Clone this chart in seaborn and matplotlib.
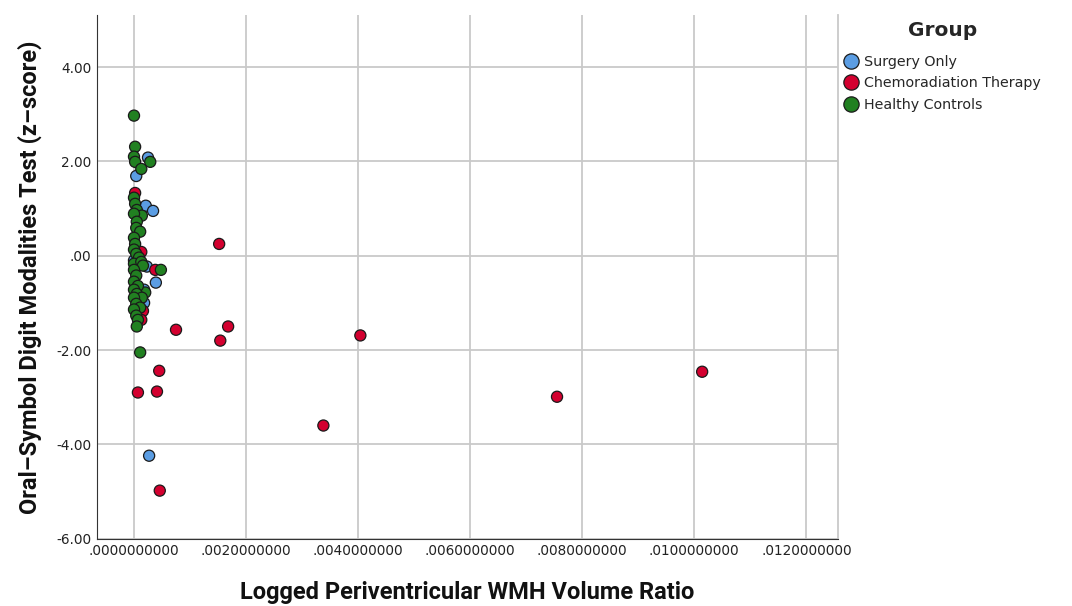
import numpy as np
import pandas as pd
import matplotlib
matplotlib.use("Agg")
import matplotlib.pyplot as plt
import seaborn as sns
from matplotlib.ticker import FuncFormatter, FixedLocator
from matplotlib.lines import Line2D

groups = ["Surgery Only", "Chemoradiation Therapy", "Healthy Controls"]
colors = ["#5b9de3", "#d3002f", "#218021"]

surgery_x = [0.00025, 0.00004, 0.00021, 0.00034, 0.00039, 0.00027, 0.0, 0.00018, 0.00023, 0.00018]
surgery_y = [2.08, 1.69, 1.06, 0.95, -0.57, -4.24, -0.10, -1.00, -0.23, -0.72]

chemo_x = [0.00152, 0.00075, 0.00168, 0.00154, 0.00404, 0.00045, 0.00041, 0.00007,
           0.00338, 0.00755, 0.01014, 0.00046, 0.00038, 0.00016, 0.00013, 0.00002, 0.00013]
chemo_y = [0.25, -1.57, -1.50, -1.80, -1.69, -2.44, -2.88, -2.90,
           -3.60, -2.99, -2.46, -4.98, -0.30, -1.17, -1.36, 1.33, 0.08]

healthy_x = [0.0, 0.00002, 0.0, 0.00002, 0.00029, 0.00013, 0.00048, 0.00011, 0.00020,
             0.0, 0.00002, 0.00005, 0.00014, 0.0, 0.00005, 0.00004, 0.00011, 0.0, 0.00002,
             0.0, 0.00004, 0.00009, 0.0, 0.00013, 0.00016, 0.0, 0.00004, 0.0, 0.00007,
             0.0, 0.00005, 0.00014, 0.0, 0.00004, 0.00011, 0.0, 0.00004, 0.00007, 0.00005]
healthy_y = [2.97, 2.31, 2.10, 1.99, 1.99, 1.84, -0.30, -2.05, -0.78,
             1.23, 1.10, 0.97, 0.85, 0.89, 0.72, 0.59, 0.51, 0.38, 0.25,
             0.13, 0.04, -0.04, -0.17, -0.13, -0.21, -0.30, -0.42, -0.55, -0.64,
             -0.72, -0.81, -0.89, -0.89, -1.02, -1.10, -1.14, -1.27, -1.36, -1.50]

x_ticks = [0.0, 0.002, 0.004, 0.006, 0.008, 0.010, 0.012]
y_ticks = [-6, -4, -2, 0, 2, 4]
x_label = "Logged Periventricular WMH Volume Ratio"
y_label = "Oral\u2013Symbol Digit Modalities Test (z\u2013score)"

df = pd.DataFrame({
    "x": surgery_x + chemo_x + healthy_x,
    "y": surgery_y + chemo_y + healthy_y,
    "Group": [groups[0]] * len(surgery_x) + [groups[1]] * len(chemo_x) + [groups[2]] * len(healthy_x),
})

sns.set_style("white")
plt.rcParams["font.family"] = ["DejaVu Sans"]

fig = plt.figure(figsize=(10.72, 6.06), dpi=100)
ax = fig.add_axes([0.0905, 0.111, 0.6915, 0.864])

sns.scatterplot(data=df, x="x", y="y", hue="Group", hue_order=groups,
                palette=colors, s=64, edgecolor="#1a1a1a", linewidth=0.9,
                alpha=1, ax=ax, legend=False, zorder=3)

ax.set_xlim(-0.00066, 0.01257)
ax.set_ylim(-6, 5.1)
ax.xaxis.set_major_locator(FixedLocator(x_ticks))
ax.yaxis.set_major_locator(FixedLocator(y_ticks))
ax.xaxis.set_major_formatter(FuncFormatter(lambda v, p: ("%.10f" % v).replace("0.", ".", 1)))
def yfmt(v, p):
    s = "%.2f" % v
    if s.startswith("-0."):
        s = "-" + s[2:]
    elif s.startswith("0."):
        s = s[1:]
    return s
ax.yaxis.set_major_formatter(FuncFormatter(yfmt))
ax.grid(True, color="#c9c9c9", linewidth=1.3)
ax.set_axisbelow(True)
ax.tick_params(axis="both", length=0, labelsize=9.8, colors="#222222", pad=4)

ax.spines["top"].set_visible(False)
ax.spines["right"].set_color("#c9c9c9")
ax.spines["right"].set_linewidth(1.3)
ax.spines["left"].set_color("#333333")
ax.spines["bottom"].set_color("#333333")

ax.set_xlabel(x_label, fontsize=17, fontweight="bold", family="Roboto", labelpad=16, color="#111111")
ax.set_ylabel(y_label, fontsize=17, fontweight="bold", family="Roboto", labelpad=10, color="#111111")

handles = [Line2D([0], [0], marker="o", linestyle="", markersize=11,
                  markerfacecolor=c, markeredgecolor="#1a1a1a", markeredgewidth=0.9)
           for c in colors]
leg = fig.legend(handles, groups, title="Group", loc="upper left",
                 bbox_to_anchor=(844 / 1072, 1 - 21 / 606), frameon=False, fontsize=10.3,
                 handletextpad=0.4, labelspacing=0.5, borderaxespad=0, borderpad=0,
                 handlelength=1.0, title_fontproperties={"weight": "bold", "size": 14.5})
leg._legend_box.align = "center"
leg._legend_box.sep = 11

fig.savefig("out.png", dpi=100)
